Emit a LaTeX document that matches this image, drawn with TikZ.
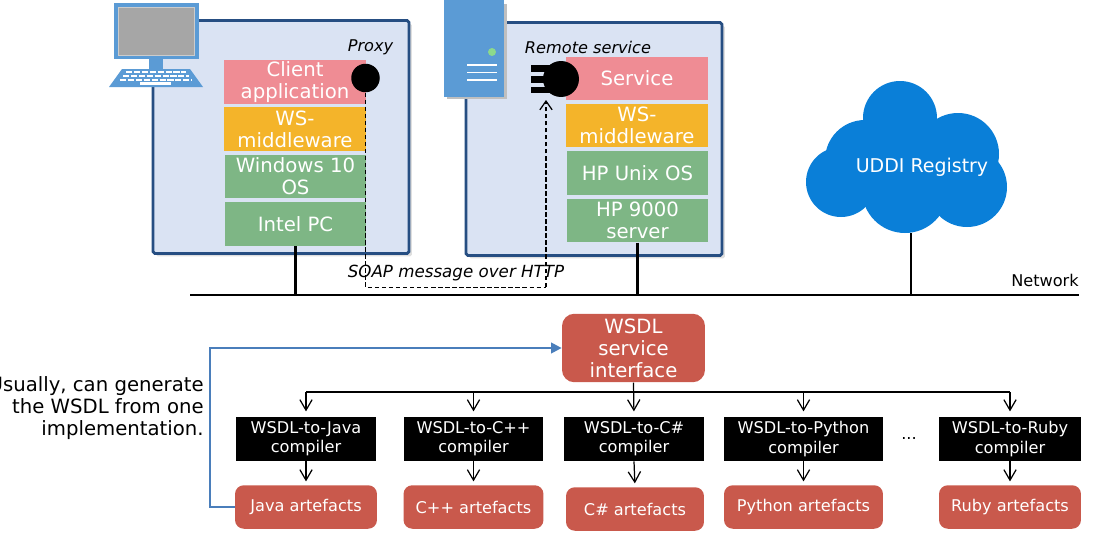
\documentclass[tikz,border=0pt]{standalone}
\usepackage{fontspec}
\setmainfont{DejaVu Sans}
\usetikzlibrary{arrows.meta, positioning, shadows}
\definecolor{hostblue}{HTML}{DAE3F3}
\definecolor{hostline}{HTML}{264E82}
\definecolor{iconblue}{HTML}{5B9BD5}
\definecolor{pinklayer}{HTML}{EF8C94}
\definecolor{amberlayer}{HTML}{F4B42A}
\definecolor{greenlayer}{HTML}{7EB685}
\definecolor{brickred}{HTML}{C9594C}
\definecolor{cloudblue}{HTML}{0A7FD8}
\definecolor{loopblue}{HTML}{4A7EBB}
\tikzset{
  host/.style={draw=hostline, line width=1.6pt, fill=hostblue, rounded corners=1pt, minimum width=5.12cm, minimum height=4.66cm, drop shadow={opacity=0.25, shadow xshift=0.06cm, shadow yshift=-0.06cm}},
  layer/.style={text=white, minimum width=2.84cm, minimum height=0.87cm, inner sep=0pt, align=center, font=\fontsize{11.2}{12.6}\selectfont},
  compiler/.style={fill=black, text=white, minimum width=2.8cm, minimum height=0.88cm, inner sep=0pt, align=center, font=\fontsize{9.2}{11}\selectfont},
  artefact/.style={fill=brickred, text=white, rounded corners=5pt, minimum width=2.8cm, minimum height=0.87cm, inner sep=0pt, font=\fontsize{9.2}{11}\selectfont},
  caption/.style={inner sep=0pt, font=\fontsize{9.2}{11}\selectfont\itshape},
  flow/.style={-{Straight Barb[length=6pt,width=7pt]}, line width=0.7pt, shorten >=3pt},
  wire/.style={line width=1.2pt}
}
\begin{document}
\begin{tikzpicture}[x=0.02cm, y=-0.02cm]
  \useasboundingbox (0,0) rectangle (1096,541);

  % Client host
  \node[host] (clienthost) at (281,137) {};
  \fill[iconblue] (114,3) rectangle (199,59);
  \fill[gray!70, draw=gray!40, line width=0.5pt] (118,7) rectangle (194,55);
  \fill[iconblue] (149,59) rectangle (163,70);
  \fill[iconblue] (109,87) -- (203,87) -- (190,69) -- (122,69) -- cycle;
  \foreach \rowy/\rowa/\rowb in {72/126/186, 76/123/189, 80/120/192}
    \draw[white, line width=1.4pt, dash pattern=on 3.5pt off 1pt] (\rowa,\rowy) -- (\rowb,\rowy);
  \draw[white, line width=1.4pt] (140,83.5) -- (171,83.5);

  \node[layer, fill=pinklayer] (clientapp) at (295,82) {Client\\application};
  \node[layer, fill=amberlayer] (clientmw) at (295,129) {WS-\\middleware};
  \node[layer, fill=greenlayer] (clientos) at (295.5,176.5) {Windows 10\\OS};
  \node[layer, fill=greenlayer] (clientpc) at (295.5,224) {Intel PC};
  \node[circle, fill=black, minimum size=0.57cm, inner sep=0pt] (proxy) at (365.5,78) {};
  \node[caption] (proxylabel) at (370.5,47) {Proxy};

  % Service host
  \node[host] (servicehost) at (594,139) {};
  \fill[black!25] (447,4) rectangle (507,99);
  \fill[iconblue] (444,0) rectangle (504,97);
  \fill[green!50!gray!60] (492,52) circle (4);
  \foreach \liney in {65,72.5,80}
    \draw[white, line width=1pt] (467,\liney) -- (497,\liney);

  \node[layer, fill=pinklayer] (service) at (637,78.5) {Service};
  \node[layer, fill=amberlayer] (servicemw) at (637,125.5) {WS-\\middleware};
  \node[layer, fill=greenlayer] (serviceos) at (637.5,173) {HP Unix OS};
  \node[layer, fill=greenlayer] (servicehw) at (637.5,220.5) {HP 9000\\server};
  \fill[black] (531,65) rectangle (552,72);
  \fill[black] (531,76) rectangle (552,83);
  \fill[black] (531,86.5) rectangle (552,93);
  \node[circle, fill=black, minimum size=0.72cm, inner sep=0pt] (stub) at (561,79) {};
  \node[caption] (stublabel) at (588,47) {Remote service};

  % Cloud
  \foreach \cx/\cy/\cr in {900/118/37, 958/154/41, 865/160/40, 841/182/35, 967/187/40, 905/190/43, 910/160/40}
    \fill[cloudblue] (\cx,\cy) circle (\cr);
  \node[text=white, inner sep=0pt, font=\fontsize{10.8}{13}\selectfont] (uddi) at (922,167) {UDDI Registry};

  % Network
  \coordinate (netleft) at (190,295);
  \coordinate (netright) at (1079,295);
  \coordinate (cloudfoot) at (911,233);
  \draw[wire] (netleft) -- (netright);
  \draw[wire] (clientpc.south) -- (clientpc.south |- netleft);
  \draw[wire] (servicehw.south) -- (servicehw.south |- netleft);
  \draw[wire] (cloudfoot) -- (cloudfoot |- netleft);
  \node[inner sep=0pt, font=\fontsize{9.2}{11}\selectfont] (network) at (1045,280) {Network};
  \node[caption, font=\fontsize{9.5}{11}\selectfont\itshape] (soap) at (456,273) {SOAP message over HTTP};

  % SOAP path
  \coordinate (soapa) at (365.5,287);
  \coordinate (soapb) at (546,287);
  \coordinate (soaptip) at (546,100);
  \draw[line width=0.5pt, dash pattern=on 2.5pt off 1.5pt] (proxy.south) -- (soapa) -- (soapb);
  \draw[line width=0.7pt, dash pattern=on 2.5pt off 1.5pt, -{Straight Barb[length=5pt,width=7pt]}] (soapb) -- (soaptip);

  % WSDL
  \node[fill=brickred, text=white, rounded corners=7pt, minimum width=2.86cm, minimum height=1.37cm, inner sep=0pt, align=center, font=\fontsize{11.2}{12.6}\selectfont] (wsdl) at (633.5,348) {WSDL\\service\\interface};

  \node[compiler] (javac) at (306,439) {WSDL-to-Java\\compiler};
  \node[compiler] (cppc) at (473.5,439) {WSDL-to-C++\\compiler};
  \node[compiler] (csc) at (634,439) {WSDL-to-C\#\\compiler};
  \node[compiler, minimum width=3.18cm] (pyc) at (803.5,439) {WSDL-to-Python\\compiler};
  \node[compiler, minimum width=2.84cm] (rubyc) at (1010,439) {WSDL-to-Ruby\\compiler};
  \node[inner sep=0pt, font=\fontsize{9.2}{11}\selectfont] (dots) at (909,438) {...};

  \node[artefact, minimum width=2.84cm] (javaa) at (306,507) {Java artefacts};
  \node[artefact] (cppa) at (473.5,507) {C++ artefacts};
  \node[artefact, minimum width=2.76cm] (csa) at (635,509) {C\# artefacts};
  \node[artefact, minimum width=3.18cm] (pya) at (803.5,507) {Python artefacts};
  \node[artefact, minimum width=2.84cm] (rubya) at (1010,507) {Ruby artefacts};

  % Bus
  \coordinate (busleft) at (306,392);
  \coordinate (busright) at (1010,392);
  \draw[line width=1pt] (busleft) -- (busright);
  \draw[flow] (wsdl.south) -- (csc.north);
  \foreach \target in {javac, cppc, pyc, rubyc}
    \draw[flow] (\target.north |- busleft) -- (\target.north);
  \foreach \from/\target in {javac/javaa, cppc/cppa, csc/csa, pyc/pya, rubyc/rubya}
    \draw[flow, shorten >=2pt] (\from.south) -- (\target.north);

  % Generated back
  \coordinate (loopa) at (210,507);
  \coordinate (loopb) at (210,348);
  \draw[loopblue, line width=1.2pt, -{Triangle[length=6pt,width=6pt]}] (javaa.west) -- (loopa) -- (loopb) -- (wsdl.west);
  \node[anchor=north east, inner sep=0pt, align=right, font=\fontsize{11.2}{12.6}\selectfont] (note) at (204,376) {Usually, can generate\\the WSDL from one\\implementation.};
\end{tikzpicture}
\end{document}
